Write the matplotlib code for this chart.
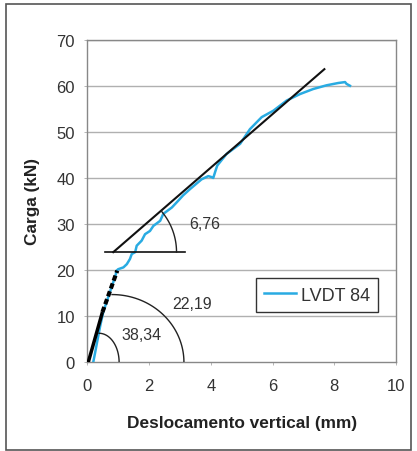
import matplotlib
matplotlib.use("Agg")
import matplotlib.pyplot as plt
import numpy as np
from matplotlib.patches import Rectangle

plt.rcParams['font.family'] = ['Liberation Sans', 'DejaVu Sans']

# Measured curve LVDT 84 (displacement mm, load kN)
disp = [0.20, 0.25, 0.32, 0.42, 0.52, 0.62, 0.72, 0.82, 0.90, 0.95, 1.00, 1.17, 1.28,
        1.38, 1.44, 1.55, 1.60, 1.76, 1.87, 2.03, 2.14, 2.36, 2.46, 2.74, 2.95, 3.10,
        3.33, 3.70, 3.92, 4.02, 4.08, 4.15, 4.21, 4.51, 4.95, 5.27, 5.65, 6.03, 6.46,
        6.89, 7.32, 7.75, 8.13, 8.35, 8.40, 8.51]
load = [0.3, 2.0, 4.5, 8.0, 11.0, 13.0, 15.0, 17.0, 18.5, 19.9, 20.2, 20.6, 21.3,
        22.4, 23.5, 23.9, 25.3, 26.4, 27.8, 28.5, 29.6, 30.7, 32.2, 33.6, 35.1, 36.2,
        37.6, 39.7, 40.4, 40.2, 40.0, 41.5, 42.7, 45.2, 47.4, 50.6, 53.2, 54.6, 56.8,
        58.2, 59.3, 60.1, 60.6, 60.8, 60.4, 60.0]

# Stiffness lines
init_x = [0.03, 0.49]
init_y = [0.0, 10.9]
dot_x = [0.49, 0.97]
dot_y = [10.9, 19.9]
tan_x = [0.84, 7.68]
tan_y = [23.9, 63.6]
hor_x = [0.57, 3.17]
hor_y = [23.9, 23.9]

stiff_labels = ["38,34", "22,19", "6,76"]
label_pos = [(1.76, 6.1), (3.38, 12.75), (3.82, 30.2)]

xticks = [0, 2, 4, 6, 8, 10]
yticks = [0, 10, 20, 30, 40, 50, 60, 70]

fig = plt.figure(figsize=(4.17, 4.52), dpi=100)
fig.patches.append(Rectangle((6/417, 1-451/452), 405/417, 446/452, transform=fig.transFigure,
                             fill=False, edgecolor='#555555', linewidth=1.2))
ax = fig.add_axes([0.2094, 0.1962, 0.7402, 0.7138])

ax.set_xlim(0, 10)
ax.set_ylim(0, 70)
ax.set_xticks(xticks)
ax.set_yticks(yticks)
for y in yticks[1:]:
    ax.axhline(y, color='#b0b0b0', linewidth=1.0, zorder=0)
for s in ax.spines.values():
    s.set_color('#888888')
    s.set_linewidth(1.0)
ax.tick_params(axis='both', colors='#aaaaaa', labelcolor='#333333', labelsize=12, length=2, width=0.6)
ax.tick_params(axis='x', pad=9)
ax.tick_params(axis='y', pad=7)

line, = ax.plot(disp, load, color='#29abe2', linewidth=1.8, label='LVDT 84', zorder=3)
ax.plot(init_x, init_y, color='black', linewidth=2.5, zorder=4, solid_capstyle='butt')
ax.plot(dot_x, dot_y, color='black', linewidth=3.0, linestyle=(0, (1.3, 0.7)), zorder=4)
ax.plot(tan_x, tan_y, color='#111111', linewidth=1.5, zorder=4)
ax.plot(hor_x, hor_y, color='#111111', linewidth=1.2, zorder=4)

# arcs (ellipses in data coords = circles-ish in pixels)
def arc(cx, cy, rx, ry, a0, a1):
    t = np.radians(np.linspace(a0, a1, 60))
    ax.plot(cx + rx*np.cos(t), cy + ry*np.sin(t), color='#222222', linewidth=1.0, zorder=4)

arc(0.38, 0.0, 0.65, 6.3, 0, 90)
arc(0.80, 0.0, 2.33, 14.7, 0, 90)
arc(0.84, 23.9, 2.05, 13.7, 0, 41)

for lab, (x, y) in zip(stiff_labels, label_pos):
    ax.text(x, y, lab, fontsize=11.5, color='#333333', ha='center', va='center')

ax.set_xlabel('Deslocamento vertical (mm)', fontsize=12.4, fontweight='bold', color='#222222', labelpad=16)
ax.set_ylabel('Carga (kN)', fontsize=12.4, fontweight='bold', color='#222222', labelpad=12)

leg = ax.legend(handles=[line], loc='lower left', bbox_to_anchor=(0.546, 0.157), borderaxespad=0,
                fancybox=False, edgecolor='#333333', fontsize=13, handlelength=1.8,
                handletextpad=0.25, borderpad=0.45, framealpha=1)
leg.get_frame().set_linewidth(1.0)
for t in leg.get_texts():
    t.set_color('#333333')

fig.savefig('out.png', dpi=100)
